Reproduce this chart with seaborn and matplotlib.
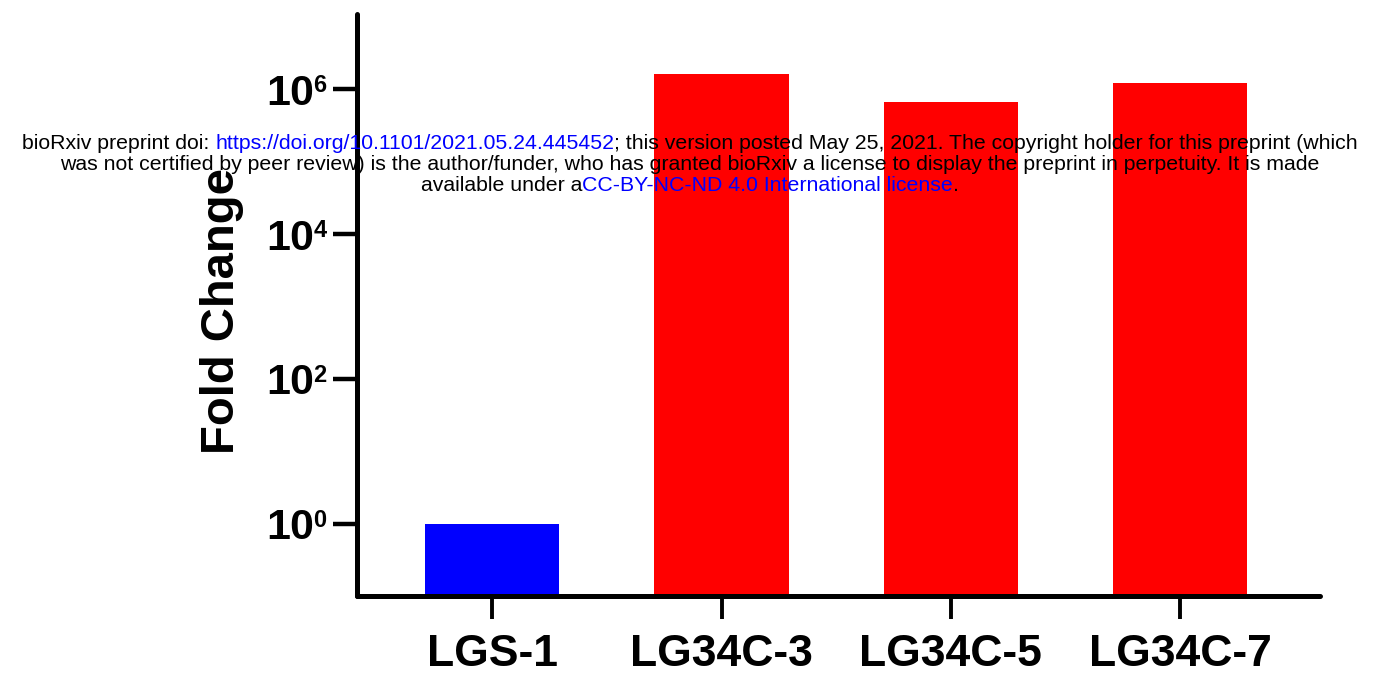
import matplotlib
matplotlib.use("Agg")
import matplotlib.pyplot as plt
import seaborn as sns
import pandas as pd
from matplotlib.ticker import NullLocator

# ---- data ----
categories = ["LGS-1", "LG34C-3", "LG34C-5", "LG34C-7"]
fold_change = [1.0, 1.63e6, 6.7e5, 1.22e6]
bar_colors = ["#0000FF", "#FF0000", "#FF0000", "#FF0000"]
ytick_values = [1, 1e2, 1e4, 1e6]
ytick_exponents = ["0", "2", "4", "6"]
y_label = "Fold Change"

watermark_lines = [
    [("bioRxiv preprint doi: ", "black"),
     ("https://doi.org/10.1101/2021.05.24.445452", "#0000FF"),
     ("; this version posted May 25, 2021. The copyright holder for this preprint (which", "black")],
    [("was not certified by peer review) is the author/funder, who has granted bioRxiv a license to display the preprint in perpetuity. It is made", "black")],
    [("available under a", "black"),
     ("CC-BY-NC-ND 4.0 International license", "#0000FF"),
     (".", "black")],
]

sns.set_style("white")
plt.rcParams["font.family"] = ["Liberation Sans", "DejaVu Sans"]
plt.rcParams.update({"text.color": "black", "axes.labelcolor": "black",
                     "xtick.color": "black", "ytick.color": "black"})

W, H = 1374, 676
fig = plt.figure(figsize=(W / 100, H / 100), dpi=100)
ax = fig.add_axes([357 / W, 1 - 596 / H, (1320 - 357) / W, (596 - 14) / H])

df = pd.DataFrame({"cat": categories, "val": fold_change})
sns.barplot(data=df, x="cat", y="val", hue="cat", palette=bar_colors,
            saturation=1, width=0.585, linewidth=0, legend=False, ax=ax)

ax.set_yscale("log")
ax.set_ylim(0.1, 1.1e7)
ax.set_xlim(-0.59, 3.61)
ax.yaxis.set_minor_locator(NullLocator())
ax.set_yticks(ytick_values)
ax.set_yticklabels(["10"] * len(ytick_values))

for side in ["top", "right"]:
    ax.spines[side].set_visible(False)
for side in ["left", "bottom"]:
    ax.spines[side].set_linewidth(3.6)
    ax.spines[side].set_color("black")
    ax.spines[side].set_capstyle("round")

ax.tick_params(axis="y", which="major", length=17.5, width=3.2, pad=13.5,
               labelsize=31, labelcolor="black", color="black",
               direction="out", left=True)
ax.tick_params(axis="x", which="major", length=16.5, width=2.8, pad=11,
               labelsize=32, labelcolor="black", color="black",
               direction="out", bottom=True)
for lab in ax.get_yticklabels() + ax.get_xticklabels():
    lab.set_fontweight("bold")

for v, e in zip(ytick_values, ytick_exponents):
    ax.annotate(e, xy=(0, v), xycoords=("axes fraction", "data"),
                xytext=(-31.3, 10.8), textcoords="offset points",
                ha="left", va="top", fontsize=17, fontweight="bold",
                color="black", annotation_clip=False)

ax.set_xlabel("")
ax.set_ylabel(y_label, fontsize=34, fontweight="bold", color="black")
ax.yaxis.set_label_coords(-0.117, 0.49)

# ---- watermark (multi-coloured lines) ----
renderer = fig.canvas.get_renderer()
wm_size = 15.3
baselines = [149, 170, 191]
center_x = 690


def text_width(s):
    t = fig.text(0, 0, s, fontsize=wm_size)
    w = t.get_window_extent(renderer=renderer).width
    t.remove()
    return w


probe = text_width("x")
for segs, yb in zip(watermark_lines, baselines):
    full = "".join(s for s, _ in segs)
    total = text_width(full + "x") - probe
    x0 = center_x - total / 2
    prefix = ""
    for s, c in segs:
        xs = x0 + (text_width(prefix + "x") - probe if prefix else 0)
        fig.text(xs / W, 1 - yb / H, s, fontsize=wm_size, color=c,
                 ha="left", va="baseline", zorder=10)
        prefix += s

fig.savefig("out.png", dpi=100)
